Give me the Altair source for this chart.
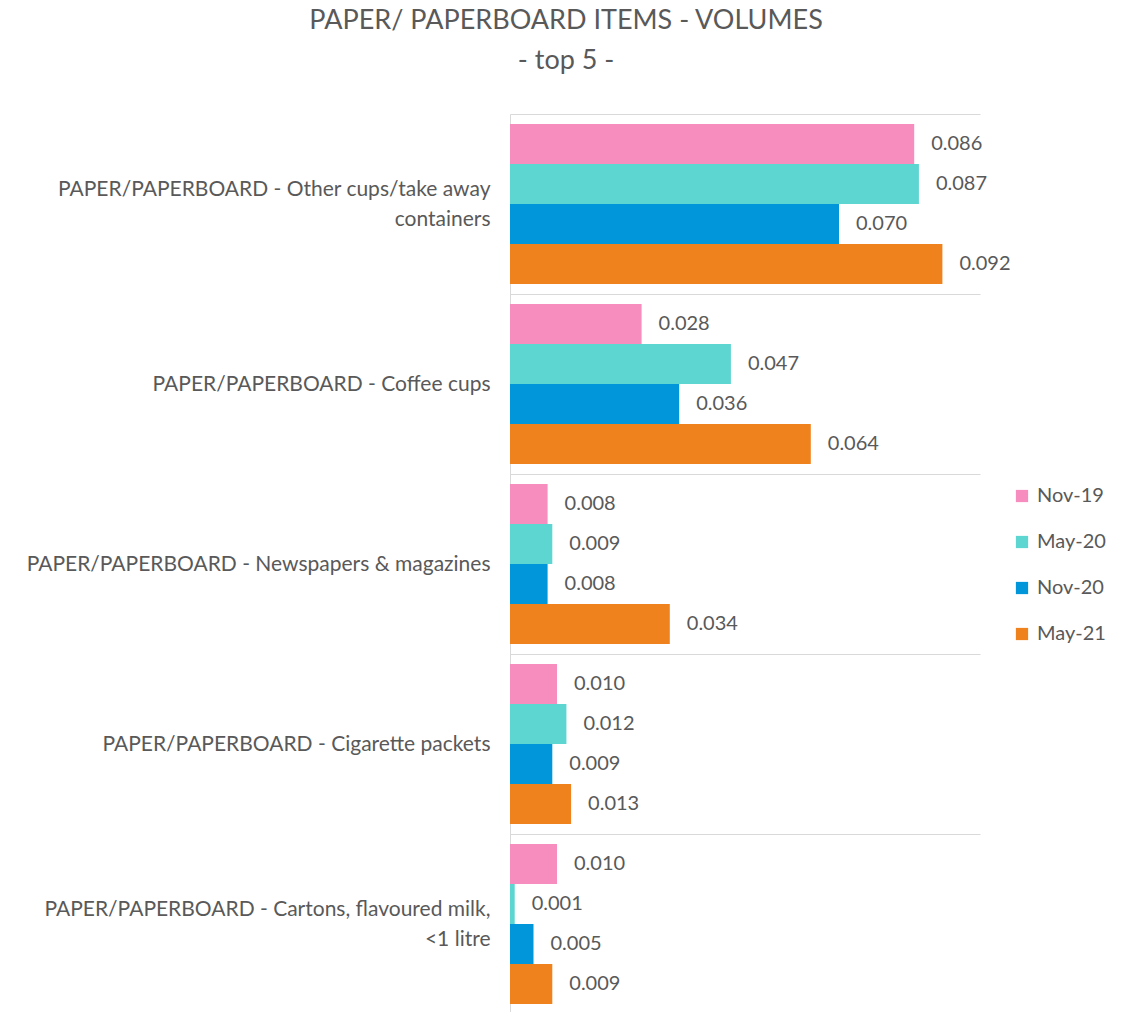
import altair as alt
import pandas as pd

categories = [
    "PAPER/PAPERBOARD - Other cups/take away\ncontainers",
    "PAPER/PAPERBOARD - Coffee cups",
    "PAPER/PAPERBOARD - Newspapers & magazines",
    "PAPER/PAPERBOARD - Cigarette packets",
    "PAPER/PAPERBOARD - Cartons, flavoured milk,\n<1 litre",
]
series = ["Nov-19", "May-20", "Nov-20", "May-21"]
nov19 = [0.086, 0.028, 0.008, 0.010, 0.010]
may20 = [0.087, 0.047, 0.009, 0.012, 0.001]
nov20 = [0.070, 0.036, 0.008, 0.009, 0.005]
may21 = [0.092, 0.064, 0.034, 0.013, 0.009]
colors = ["#F78CBE", "#5DD5D0", "#0096D9", "#F0821E"]

rows = []
for s, vals in zip(series, [nov19, may20, nov20, may21]):
    for c, v in zip(categories, vals):
        rows.append({"category": c, "series": s, "value": v})
df = pd.DataFrame(rows)

FONT = "Lato"
GRAY = "#595959"
BLANK = "\u2800"  # blank spacer line (not trimmed as whitespace)

label_expr = (
    "indexof(datum.label, '\\n') >= 0 ? "
    "[split(datum.label, '\\n')[0], '" + BLANK + "', split(datum.label, '\\n')[1]] : "
    "['" + BLANK + "', datum.label]"
)

y_enc = alt.Y(
    "category:N",
    sort=categories,
    title=None,
    scale=alt.Scale(paddingInner=0, paddingOuter=0),
    axis=alt.Axis(
        labelExpr=label_expr,
        labelFont=FONT,
        labelFontSize=21,
        labelColor=GRAY,
        labelPadding=20,
        labelLineHeight=15,
        labelOffset=-15,
        labelLimit=600,
        ticks=False,
        grid=True,
        gridColor="#D9D9D9",
        tickBand="extent",
        domainColor="#D9D9D9",
    ),
)
yoff = alt.YOffset("series:N", sort=series, scale=alt.Scale(paddingInner=0, paddingOuter=0.25))
x_enc = alt.X("value:Q", scale=alt.Scale(domain=[0, 0.1], nice=False), axis=None)

base = alt.Chart(df).encode(y=y_enc, yOffset=yoff, x=x_enc)

bars = base.mark_bar().encode(
    color=alt.Color(
        "series:N",
        sort=series,
        scale=alt.Scale(domain=series, range=colors),
        legend=alt.Legend(
            title=None,
            orient="none",
            legendX=502,
            legendY=372,
            symbolType="square",
            symbolSize=150,
            symbolStrokeWidth=0,
            symbolOpacity=1,
            labelFont=FONT,
            labelFontSize=20,
            labelColor=GRAY,
            rowPadding=26,
            labelOffset=5,
        ),
    )
)

labels = base.mark_text(
    align="left", baseline="middle", dx=17, font=FONT, fontSize=20, color=GRAY
).encode(text=alt.Text("value:Q", format=".3f"))

chart = (
    alt.layer(bars, labels)
    .properties(
        width=470,
        height=900,
        title=alt.TitleParams(
            text=["PAPER/ PAPERBOARD ITEMS - VOLUMES", "- top 5 -"],
            font=FONT,
            fontSize=27,
            fontWeight="normal",
            color=GRAY,
            anchor="middle",
            frame="bounds",
            lineHeight=40,
            offset=28,
        ),
        padding={"left": 502, "top": 106, "right": 134, "bottom": 0},
        autosize=alt.AutoSizeParams(type="none"),
    )
    .configure_view(stroke=None)
)

chart.save("out.html", embed_options={"renderer": "svg", "actions": False})
